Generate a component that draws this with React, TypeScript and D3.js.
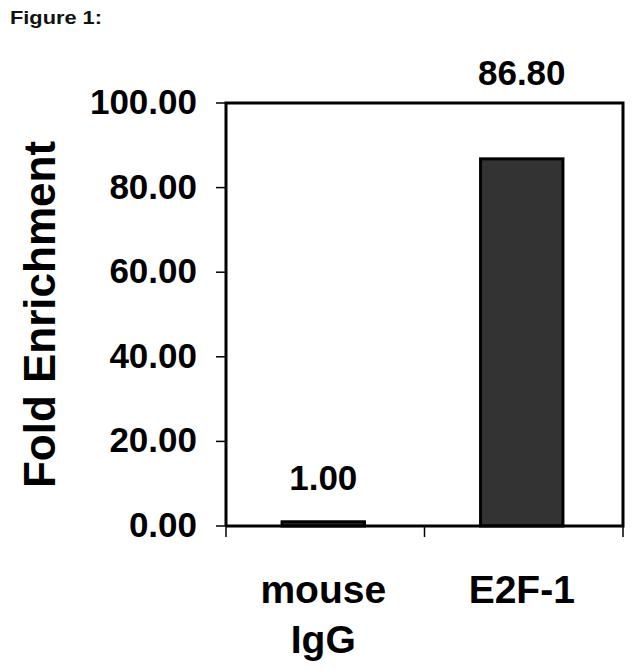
import React from "react";
import * as d3 from "d3";

const categories = ["mouse IgG", "E2F-1"];
const categoryLines = [["mouse", "IgG"], ["E2F-1"]];
const values = [1.0, 86.8];
const yTicks = [0, 20, 40, 60, 80, 100];
const labelOffsets = [32, 74];

const W = 640;
const H = 670;
const M = { left: 226, right: 17, top: 103, bottom: 144 };
const FONT = "'Liberation Sans', Arial, Helvetica, sans-serif";

export default function App() {
  const x = d3
    .scaleBand<string>()
    .domain(categories)
    .range([M.left, W - M.right])
    .paddingInner(0)
    .paddingOuter(0);
  const y = d3.scaleLinear().domain([0, 100]).range([H - M.bottom, M.top]);
  const barW = x.bandwidth() * 0.415;
  const fmt = d3.format(".2f");
  const x0 = M.left;
  const x1 = W - M.right;
  const yb = y(0);
  const yt = y(100);
  const tickEdges = [...categories.map((c) => x(c) as number), x1];

  return (
    <svg width={W} height={H} style={{ display: "block", position: "absolute", left: 0, top: 0, background: "#fff" }}>
      <rect x={0} y={0} width={W} height={H} fill="#fff" />
      <text
        x={10}
        y={24}
        fontFamily={FONT}
        fontWeight="bold"
        fontSize={18}
        textLength={92}
        lengthAdjust="spacingAndGlyphs"
        fill="#111"
      >
        Figure 1:
      </text>
      {/* bars */}
      {categories.map((c, i) => {
        const cx = (x(c) as number) + x.bandwidth() / 2 - 2;
        return (
          <rect
            key={c}
            x={cx - barW / 2}
            y={y(values[i])}
            width={barW}
            height={yb - y(values[i])}
            fill="#333333"
            stroke="#000"
            strokeWidth={3}
          />
        );
      })}
      {/* frame */}
      <path d={`M${x0},${yb} V${yt} H${x1} V${yb} H${x0}`} fill="none" stroke="#000" strokeWidth={3} />
      {/* y ticks */}
      {yTicks.map((t) => (
        <g key={t}>
          <line x1={x0 - 10} x2={x0} y1={y(t)} y2={y(t)} stroke="#000" strokeWidth={1.5} />
          <text
            x={197}
            y={y(t) + 11}
            textAnchor="end"
            fontFamily={FONT}
            fontWeight="bold"
            fontSize={35}
            fill="#000"
          >
            {fmt(t)}
          </text>
        </g>
      ))}
      {/* x ticks */}
      {tickEdges.map((tx, i) => (
        <line key={i} x1={tx} x2={tx} y1={yb} y2={yb + 11} stroke="#000" strokeWidth={1.5} />
      ))}
      {/* value labels */}
      {categories.map((c, i) => (
        <text
          key={c}
          x={(x(c) as number) + x.bandwidth() / 2 - 2}
          y={y(values[i]) - labelOffsets[i]}
          textAnchor="middle"
          fontFamily={FONT}
          fontWeight="bold"
          fontSize={35}
          fill="#000"
        >
          {fmt(values[i])}
        </text>
      ))}
      {/* category labels */}
      {categories.map((c, i) => (
        <text
          key={c}
          x={(x(c) as number) + x.bandwidth() / 2 - 2}
          y={603}
          textAnchor="middle"
          fontFamily={FONT}
          fontWeight="bold"
          fontSize={39}
          fill="#000"
        >
          {categoryLines[i].map((ln, j) => (
            <tspan key={j} x={(x(c) as number) + x.bandwidth() / 2 - 2} dy={j === 0 ? 0 : 50}>
              {ln}
            </tspan>
          ))}
        </text>
      ))}
      {/* y axis title */}
      <text
        transform={`translate(55, ${(yt + yb) / 2 + 0}) rotate(-90)`}
        textAnchor="middle"
        fontFamily={FONT}
        fontWeight="bold"
        fontSize={44}
        fill="#000"
      >
        Fold Enrichment
      </text>
    </svg>
  );
}
